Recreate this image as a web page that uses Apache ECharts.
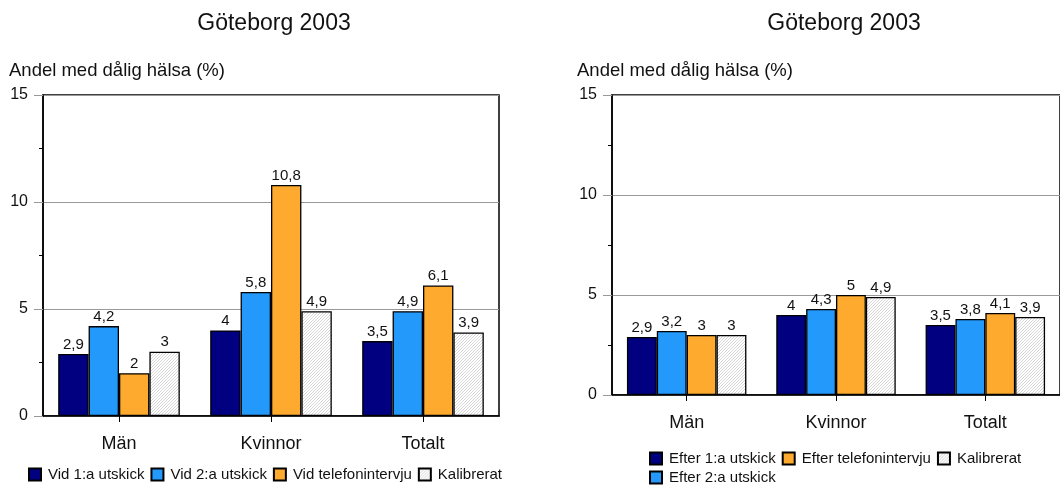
<!DOCTYPE html>
<html>
<head>
<meta charset="utf-8">
<script src="https://cdn.jsdelivr.net/npm/echarts@6/dist/echarts.min.js"></script>
<style>
  html, body { margin: 0; padding: 0; background: #fff; }
  #chart { width: 1060px; height: 486px; }
</style>
</head>
<body>
<div id="chart"></div>
<script>
// data
var categories = ['Män', 'Kvinnor', 'Totalt'];

var leftNames = ['Vid 1:a utskick', 'Vid 2:a utskick', 'Vid telefonintervju', 'Kalibrerat'];
var vid1 = [2.9, 4, 3.5];
var vid2 = [4.2, 5.8, 4.9];
var vidTelefon = [2, 10.8, 6.1];
var vidKalibrerat = [3, 4.9, 3.9];

var rightNames = ['Efter 1:a utskick', 'Efter 2:a utskick', 'Efter telefonintervju', 'Kalibrerat'];
var efter1 = [2.9, 4, 3.5];
var efter2 = [3.2, 4.3, 3.8];
var efterTelefon = [3, 5, 4.1];
var efterKalibrerat = [3, 4.9, 3.9];

var yTicks = [0, 5, 10, 15];

var font = "'Liberation Sans', Arial, sans-serif";

/* randig bakgrund for Kalibrerat */
function hatch () {
  var c = document.createElement('canvas');
  c.width = 3; c.height = 3;
  var ctx = c.getContext('2d');
  ctx.fillStyle = '#ffffff';
  ctx.fillRect(0, 0, 3, 3);
  ctx.strokeStyle = '#cccccc';
  ctx.lineWidth = 0.8;
  ctx.beginPath();
  ctx.moveTo(0, 3); ctx.lineTo(3, 0);
  ctx.moveTo(-1, 1); ctx.lineTo(1, -1);
  ctx.moveTo(2, 4); ctx.lineTo(4, 2);
  ctx.stroke();
  return { image: c, repeat: 'repeat' };
}

var colors = ['#000080', '#2399fb', '#fdaa2f', hatch()];

function fmt (p) {
  return String(p.value).replace('.', ',');
}

function makeSeries (names, values, axisIdx) {
  return names.map(function (n, i) {
    return {
      name: n,
      type: 'bar',
      xAxisIndex: axisIdx,
      yAxisIndex: axisIdx,
      data: values[i],
      barGap: '0%',
      barCategoryGap: '20%',
      itemStyle: { color: colors[i], borderColor: '#000', borderWidth: 1.3 },
      label: {
        show: true, position: 'top', distance: 2,
        fontFamily: font, fontSize: 15, color: '#111',
        formatter: fmt
      }
    };
  });
}

function yAxis (idx, margin) {
  return {
    type: 'value', gridIndex: idx, min: yTicks[0], max: yTicks[yTicks.length - 1], interval: 5,
    axisLine: { show: true, lineStyle: { color: '#000', width: 1.5 } },
    axisTick: { show: true, length: 9, lineStyle: { color: '#999' } },
    minorTick: { show: true, splitNumber: 2, length: 4, lineStyle: { color: '#000' } },
    splitLine: { show: true, lineStyle: { color: '#999', width: 1 } },
    axisLabel: { fontFamily: font, fontSize: 16, color: '#111', margin: margin }
  };
}

function xAxis (idx) {
  return {
    type: 'category', gridIndex: idx, data: categories,
    axisLine: { lineStyle: { color: '#000', width: 1.5 } },
    axisTick: { show: true, alignWithLabel: true, length: 6, lineStyle: { color: '#000' } },
    axisLabel: { fontFamily: font, fontSize: 18, color: '#111', margin: 19 }
  };
}

var legendText = { fontFamily: font, fontSize: 15, color: '#111', padding: [0, 0, 0, 2] };
var titleText = { fontFamily: font, fontSize: 23, fontWeight: 'normal', color: '#111' };
var nameText = { fontFamily: font, fontSize: 18.5, fontWeight: 'normal', color: '#111' };

function legend (data, left, top) {
  return {
    data: data, left: left, top: top, padding: 0, icon: 'rect',
    itemWidth: 12, itemHeight: 12, itemGap: 6,
    textStyle: legendText, selectedMode: false
  };
}

var option = {
  animation: false,
  title: [
    { text: 'Göteborg 2003', left: 274, top: 12, padding: 0, textAlign: 'center', textStyle: titleText },
    { text: 'Göteborg 2003', left: 844, top: 12, padding: 0, textAlign: 'center', textStyle: titleText },
    { text: 'Andel med dålig hälsa (%)', left: 9, top: 61, padding: 0, textStyle: nameText },
    { text: 'Andel med dålig hälsa (%)', left: 577, top: 61, padding: 0, textStyle: nameText }
  ],
  legend: [
    legend(leftNames, 28, 467),
    legend([rightNames[0], rightNames[2], rightNames[3]], 649, 451),
    legend([rightNames[1]], 649, 470)
  ],
  grid: [
    { left: 43, top: 95, width: 456, height: 321, show: true, borderColor: '#000', borderWidth: 1.5, backgroundColor: '#fff' },
    { left: 612, top: 95, width: 462, height: 300, show: true, borderColor: '#000', borderWidth: 1.5, backgroundColor: '#fff' }
  ],
  xAxis: [xAxis(0), xAxis(1)],
  yAxis: [yAxis(0, 15), yAxis(1, 15)],
  series: makeSeries(leftNames, [vid1, vid2, vidTelefon, vidKalibrerat], 0)
    .concat(makeSeries(rightNames, [efter1, efter2, efterTelefon, efterKalibrerat], 1))
};

var myChart = echarts.init(document.getElementById('chart'));
myChart.setOption(option);
</script>
</body>
</html>
